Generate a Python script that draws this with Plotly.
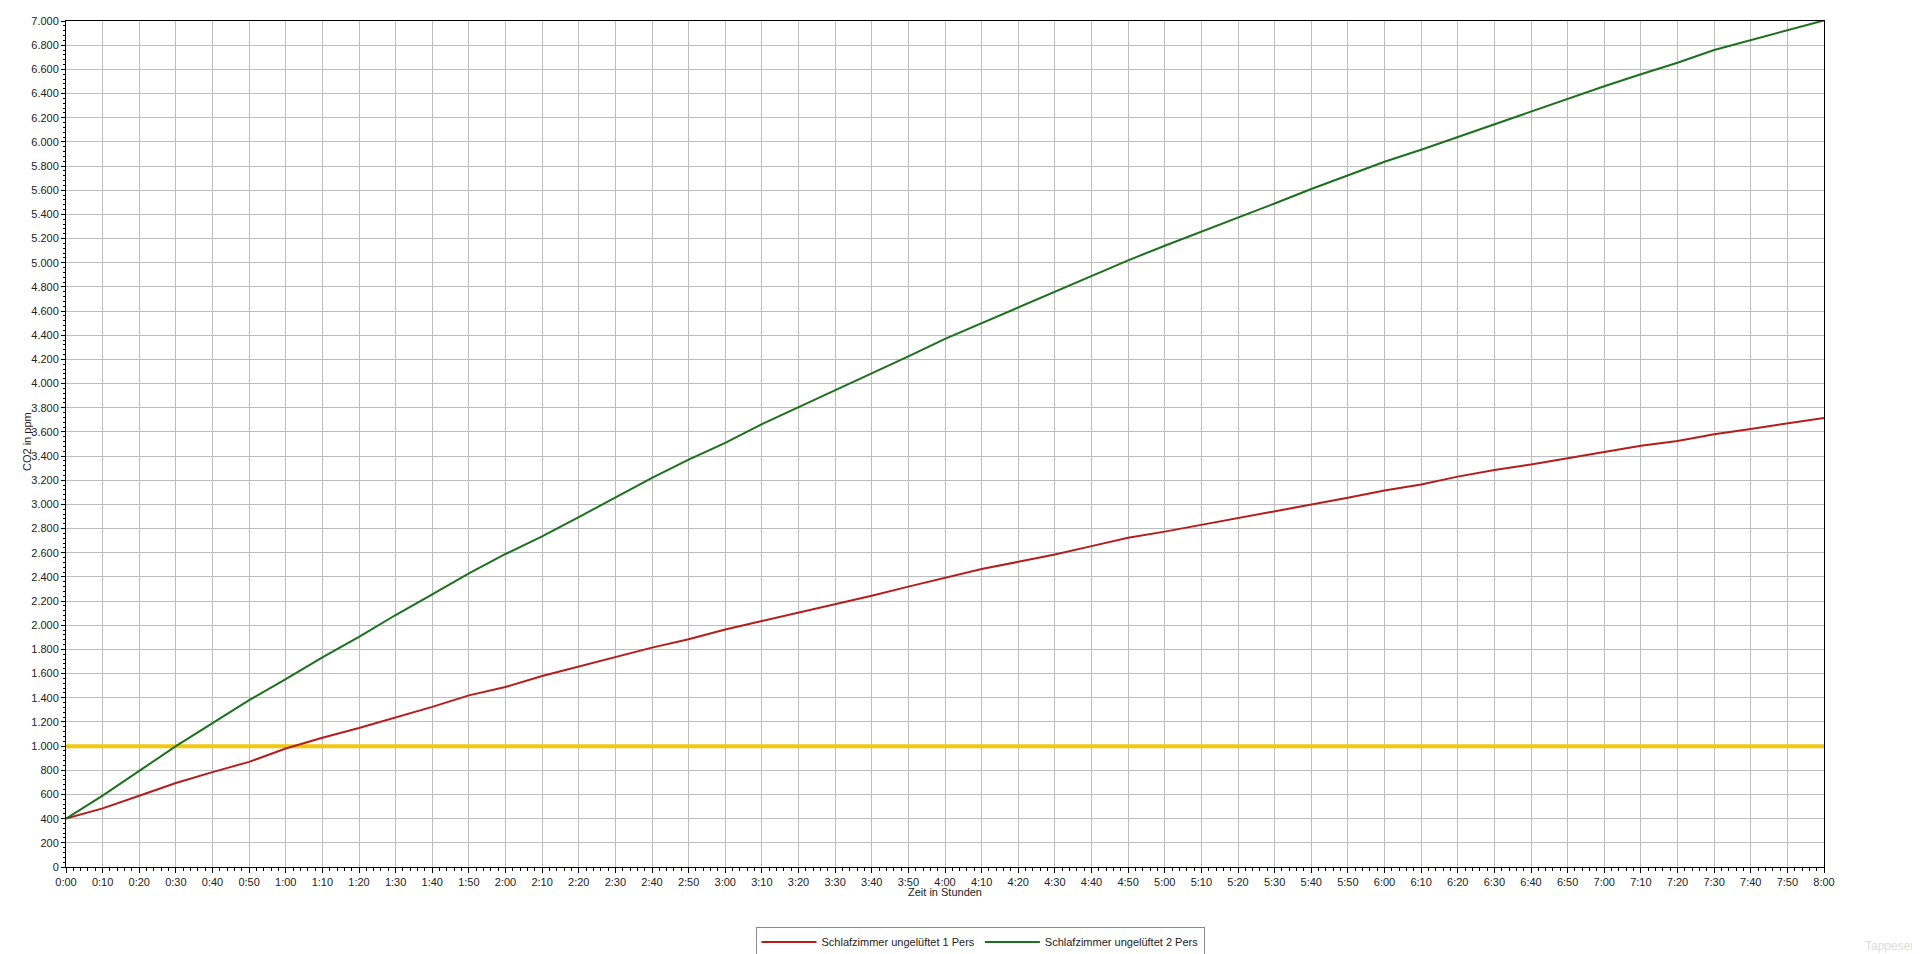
import plotly.graph_objects as go

# Zeitachse (Stunden:Minuten), alle 10 Minuten
time_labels = [
    "0:00", "0:10", "0:20", "0:30", "0:40", "0:50",
    "1:00", "1:10", "1:20", "1:30", "1:40", "1:50",
    "2:00", "2:10", "2:20", "2:30", "2:40", "2:50",
    "3:00", "3:10", "3:20", "3:30", "3:40", "3:50",
    "4:00", "4:10", "4:20", "4:30", "4:40", "4:50",
    "5:00", "5:10", "5:20", "5:30", "5:40", "5:50",
    "6:00", "6:10", "6:20", "6:30", "6:40", "6:50",
    "7:00", "7:10", "7:20", "7:30", "7:40", "7:50",
    "8:00",
]

# CO2 in ppm, Schlafzimmer ungelueftet, 1 Person
co2_1_pers = [
    400, 485, 590, 695, 785, 870,
    980, 1070, 1150, 1235, 1325, 1420,
    1490, 1580, 1660, 1740, 1815, 1885,
    1965, 2035, 2105, 2170, 2245, 2320,
    2390, 2465, 2525, 2585, 2655, 2725,
    2775, 2830, 2890, 2945, 3000, 3055,
    3115, 3165, 3230, 3285, 3330, 3380,
    3435, 3485, 3525, 3580, 3625, 3670,
    3715,
]

# CO2 in ppm, Schlafzimmer ungelueftet, 2 Personen
co2_2_pers = [
    400, 590, 795, 1000, 1190, 1380,
    1555, 1735, 1905, 2085, 2255, 2430,
    2590, 2735, 2895, 3060, 3220, 3370,
    3510, 3665, 3805, 3945, 4080, 4225,
    4370, 4500, 4630, 4765, 4895, 5020,
    5140, 5255, 5375, 5490, 5610, 5725,
    5835, 5935, 6040, 6150, 6255, 6360,
    6460, 6560, 6655, 6760, 6840, 6920,
    7005,
]

# Grenzwert
limit_ppm = 1000


def to_minutes(label):
    h, m = label.split(":")
    return int(h) * 60 + int(m)


minutes = [to_minutes(t) for t in time_labels]

FONT = "Liberation Sans, Arial, sans-serif"
TXT = "#222222"

# Plotflaeche in Bildschirm-Pixeln; die Seite hat 8px Rand (body margin)
OFF = 8
L, R, T, B = 66, 1824, 21, 867
PW, PH = R - L, B - T


def px(x):
    return (x - L) / PW


def py(y):
    return (B - y) / PH


fig = go.Figure()

fig.add_trace(go.Scatter(
    x=[minutes[0], minutes[-1]],
    y=[limit_ppm, limit_ppm],
    mode="lines",
    line=dict(color="#F2C70F", width=4),
    showlegend=False,
    hoverinfo="skip",
))

fig.add_trace(go.Scatter(
    x=minutes,
    y=co2_1_pers,
    mode="lines",
    name="Schlafzimmer ungelüftet 1 Pers",
    line=dict(color="#B51D1D", width=2),
))

fig.add_trace(go.Scatter(
    x=minutes,
    y=co2_2_pers,
    mode="lines",
    name="Schlafzimmer ungelüftet 2 Pers",
    line=dict(color="#1D701D", width=2),
))

fig.update_layout(
    width=1920,
    height=954,
    margin=dict(l=L - OFF, r=1920 - R + OFF, t=T - OFF, b=954 - B + OFF,
                autoexpand=False),
    paper_bgcolor="white",
    plot_bgcolor="white",
    separators=",.",
    font=dict(family=FONT, size=11, color=TXT),
    showlegend=True,
    legend=dict(
        orientation="h",
        x=px(980),
        xanchor="center",
        y=py(942),
        yanchor="middle",
        bordercolor="#8A8A8A",
        borderwidth=1,
        bgcolor="white",
        font=dict(family=FONT, size=11, color=TXT),
        itemwidth=55,
        tracegroupgap=0,
    ),
    xaxis=dict(
        range=[0, 480],
        tickvals=minutes,
        ticktext=time_labels,
        showgrid=True,
        gridcolor="#BDBDBD",
        gridwidth=1,
        zeroline=False,
        showline=True,
        linecolor="black",
        linewidth=1,
        mirror=True,
        ticks="outside",
        ticklen=5,
        tickcolor="black",
        automargin=False,
        tickfont=dict(family=FONT, size=11, color=TXT),
        minor=dict(dtick=2, tick0=0, ticks="outside", ticklen=3,
                   tickcolor="black", showgrid=False),
    ),
    yaxis=dict(
        range=[0, 7000],
        dtick=200,
        tick0=0,
        tickformat=",d",
        showgrid=True,
        gridcolor="#BDBDBD",
        gridwidth=1,
        zeroline=False,
        showline=True,
        linecolor="black",
        linewidth=1,
        mirror=True,
        ticks="outside",
        ticklen=4,
        tickcolor="black",
        automargin=False,
        tickfont=dict(family=FONT, size=11, color=TXT),
        minor=dict(dtick=40, tick0=0, ticks="outside", ticklen=2,
                   tickcolor="black", showgrid=False),
    ),
    annotations=[
        dict(
            text="Zeit in Stunden",
            xref="paper", yref="paper",
            x=px(945), y=py(892),
            xanchor="center", yanchor="middle",
            showarrow=False,
            font=dict(family=FONT, size=11, color=TXT),
        ),
        dict(
            text="CO2 in ppm",
            xref="paper", yref="paper",
            x=px(27), y=py(442),
            xanchor="center", yanchor="middle",
            textangle=-90,
            showarrow=False,
            font=dict(family=FONT, size=11, color=TXT),
        ),
        dict(
            text="Tappeser",
            xref="paper", yref="paper",
            x=px(1916), y=py(946),
            xanchor="right", yanchor="middle",
            showarrow=False,
            font=dict(family=FONT, size=12, color="#DCDCDC"),
        ),
    ],
)

fig.write_html("out.html")
